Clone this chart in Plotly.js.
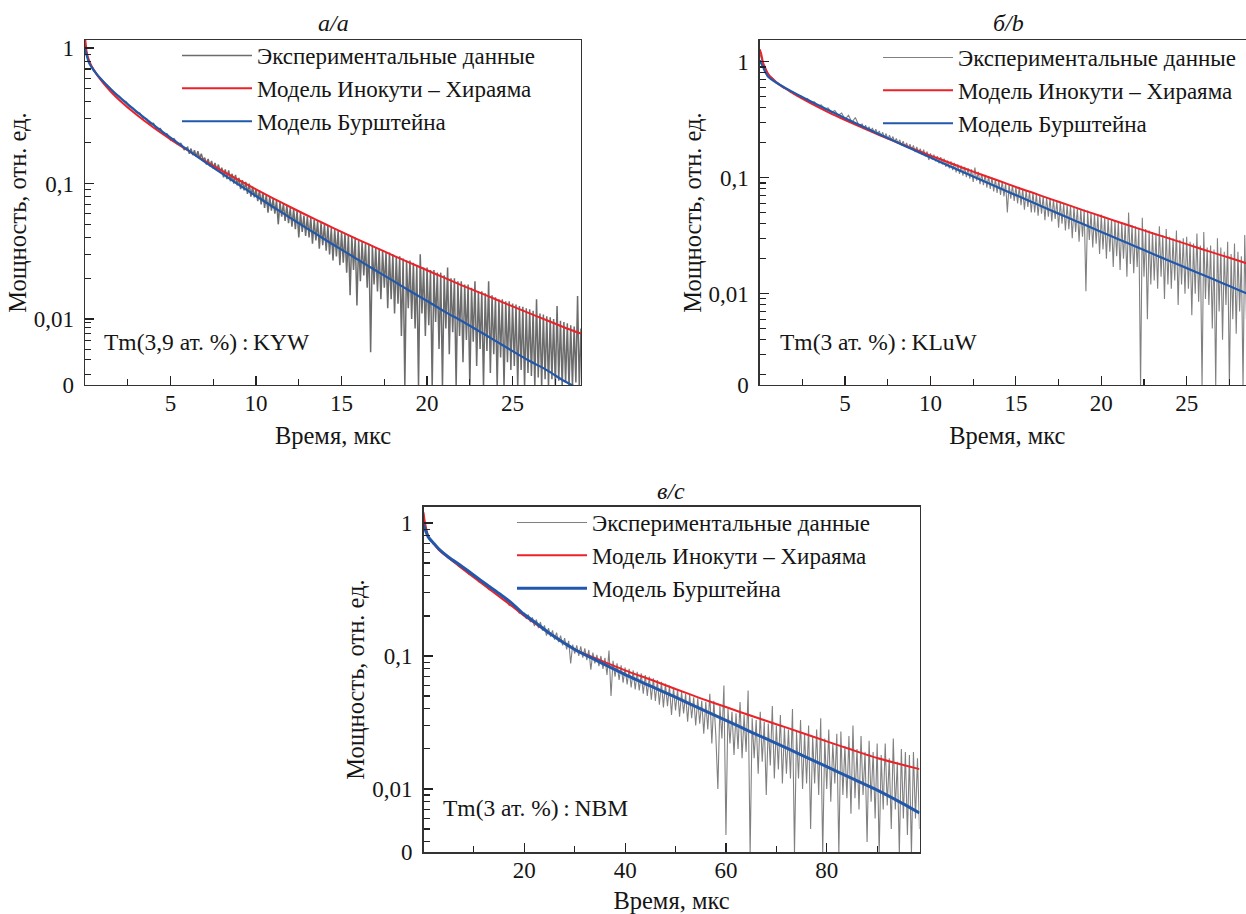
<!DOCTYPE html>
<html><head><meta charset="utf-8">
<script src="https://cdn.plot.ly/plotly-3.0.1.min.js"></script>
<style>html,body{margin:0;padding:0;overflow:hidden;background:#fff}#chart{width:1255px;height:914px}</style>
</head><body><div id="chart"></div><script>
// ---------- shared time grid for panels a and b (µs) ----------
const expAB_t = [0,0.2,0.4,0.6,0.8,1,1.2,1.4,1.6,1.8,2,2.2,2.4,2.6,2.8,3,3.2,3.4,3.6,3.8,4,4.2,4.4,4.6,4.8,5,5.2,5.4,5.6,5.8,
 6,6.1,6.2,6.3,6.4,6.5,6.6,6.7,6.8,6.9, 7,7.1,7.2,7.3,7.4,7.5,7.6,7.7,7.8,7.9,
 8,8.1,8.2,8.3,8.4,8.5,8.6,8.7,8.8,8.9, 9,9.1,9.2,9.3,9.4,9.5,9.6,9.7,9.8,9.9,
 10,10.1,10.2,10.3,10.4,10.5,10.6,10.7,10.8,10.9, 11,11.1,11.2,11.3,11.4,11.5,11.6,11.7,11.8,11.9,
 12,12.1,12.2,12.3,12.4,12.5,12.6,12.7,12.8,12.9, 13,13.1,13.2,13.3,13.4,13.5,13.6,13.7,13.8,13.9,
 14,14.1,14.2,14.3,14.4,14.5,14.6,14.7,14.8,14.9, 15,15.1,15.2,15.3,15.4,15.5,15.6,15.7,15.8,15.9,
 16,16.1,16.2,16.3,16.4,16.5,16.6,16.7,16.8,16.9, 17,17.1,17.2,17.3,17.4,17.5,17.6,17.7,17.8,17.9,
 18,18.1,18.2,18.3,18.4,18.5,18.6,18.7,18.8,18.9, 19,19.1,19.2,19.3,19.4,19.5,19.6,19.7,19.8,19.9,
 20,20.1,20.2,20.3,20.4,20.5,20.6,20.7,20.8,20.9, 21,21.1,21.2,21.3,21.4,21.5,21.6,21.7,21.8,21.9,
 22,22.1,22.2,22.3,22.4,22.5,22.6,22.7,22.8,22.9, 23,23.1,23.2,23.3,23.4,23.5,23.6,23.7,23.8,23.9,
 24,24.1,24.2,24.3,24.4,24.5,24.6,24.7,24.8,24.9, 25,25.1,25.2,25.3,25.4,25.5,25.6,25.7,25.8,25.9,
 26,26.1,26.2,26.3,26.4,26.5,26.6,26.7,26.8,26.9, 27,27.1,27.2,27.3,27.4,27.5,27.6,27.7,27.8,27.9,
 28,28.1,28.2,28.3,28.4,28.5,28.6,28.7,28.8,28.9, 29];

// ---------- Panel a: Tm(3,9 at.%):KYW ----------
const tA_model = [0,0.05,0.1,0.25,0.5,1,1.5,2,3,4,5,6,7,8,9,10,11,12,13,14,15,16,17,18,19,20,21,22,23,24,25,26,27,28,29];
const redA  = [1.2,1.05,0.93,0.80,0.692,0.564,0.478,0.414,0.323,0.259,0.212,0.176,0.147,0.1245,0.106,0.0906,0.0778,0.0671,0.0581,0.0505,0.044,0.0384,0.0337,0.0295,0.026,0.0229,0.0202,0.0178,0.0158,0.014,0.0124,0.011,0.0098,0.0087,0.0078];
const blueA = [1.0,0.93,0.88,0.77,0.687,0.578,0.499,0.436,0.3405,0.271,0.218,0.177,0.1446,0.1187,0.0978,0.0809,0.0671,0.0558,0.0465,0.0388,0.0325,0.0272,0.0228,0.0192,0.0161,0.0136,0.0114,0.0097,0.0082,0.0069,0.0058,0.0049,0.0042,0.0035,0.0030];
const expA_v = [1.05,0.80,0.73,0.665,0.615,0.58,0.545,0.51,0.48,0.455,
 0.44,0.41,0.40,0.37,0.36,0.335,0.33,0.305,0.30,0.275,
 0.278,0.253,0.255,0.232,0.232,0.21,0.214,0.196,0.198,0.178,
 0.185,0.166,0.181,0.162,0.176,0.158,0.173,0.153,0.166,0.150,
 0.155,0.138,0.152,0.134,0.147,0.129,0.142,0.125,0.138,0.121,
 0.131,0.111,0.127,0.108,0.125,0.104,0.118,0.100,0.116,0.097,
 0.110,0.091,0.106,0.089,0.103,0.084,0.100,0.080,0.095,0.079,
 0.091,0.074,0.089,0.070,0.086,0.066,0.083,0.061,0.080,0.063,
 0.077,0.060,0.075,0.050,0.073,0.057,0.071,0.053,0.069,0.051,
 0.066,0.048,0.065,0.046,0.063,0.040,0.061,0.044,0.058,0.041,
 0.057,0.040,0.056,0.036,0.054,0.038,0.053,0.033,0.051,0.035,
 0.050,0.032,0.049,0.030,0.047,0.027,0.046,0.029,0.045,0.025,
 0.044,0.026,0.043,0.022,0.042,0.015,0.041,0.023,0.040,0.0126,
 0.038,0.019,0.037,0.021,0.036,0.017,0.036,0.0057,0.035,0.018,
 0.034,0.016,0.033,0.014,0.032,0.017,0.031,0.012,0.031,0.014,
 0.030,0.011,0.029,0.013,0.029,0.0075,0.028,0,0.027,0.012,
 0.027,0.010,0.026,0.0085,0.025,0,0.030,0.011,0.024,0.0075,
 0.024,0.009,0.023,0,0.023,0.0095,0.022,0.006,0.022,0,
 0.021,0.0085,0.024,0.0055,0.020,0.008,0.020,0,0.019,0.0075,
 0.019,0.0048,0.018,0.007,0.018,0,0.017,0.0068,0.019,0.0045,
 0.016,0.006,0.016,0,0.0155,0.0058,0.019,0.004,0.015,0.0055,
 0.0145,0,0.014,0.0052,0.014,0,0.0135,0.0048,0.0135,0.0042,
 0.013,0.0045,0.0128,0,0.0125,0.0042,0.0123,0,0.012,0.004,
 0.0118,0.0038,0.0115,0,0.014,0.0037,0.011,0,0.0108,0.0036,
 0.0105,0,0.0103,0.0036,0.010,0,0.0125,0.0035,0.0097,0,
 0.0095,0.0034,0.0093,0,0.009,0,0.0088,0.0034,0.0148,0,
 0.0085];

// ---------- Panel b: Tm(3 at.%):KLuW ----------
const tB_model = [0,0.08,0.2,0.3,0.5,1,1.5,2,3,4,5,6,7,8,9,10,11,12,13,14,15,16,17,18,19,20,21,22,23,24,25,26,27,28,29];
const redB  = [1.28,1.18,0.98,0.9,0.78,0.66,0.587,0.528,0.437,0.368,0.314,0.27,0.233,0.203,0.177,0.155,0.1365,0.12,0.106,0.094,0.083,0.074,0.0657,0.0585,0.052,0.0465,0.0415,0.0371,0.0332,0.0298,0.0267,0.0239,0.0215,0.0193,0.0173];
const blueB = [1.03,0.97,0.9,0.83,0.74,0.655,0.594,0.541,0.454,0.384,0.326,0.277,0.237,0.203,0.174,0.149,0.128,0.11,0.095,0.082,0.0707,0.061,0.0527,0.0455,0.0394,0.034,0.0295,0.0255,0.0221,0.0191,0.0166,0.0144,0.0125,0.0108,0.0094];
const expB_v = [1.2,0.93,0.83,0.75,0.71,0.65,0.635,0.59,0.58,0.545,
 0.545,0.505,0.51,0.475,0.48,0.445,0.45,0.415,0.425,0.39,
 0.40,0.365,0.38,0.345,0.36,0.318,0.345,0.30,0.33,0.283,
 0.29,0.262,0.283,0.257,0.275,0.25,0.268,0.244,0.262,0.238,
 0.253,0.228,0.246,0.222,0.24,0.214,0.232,0.21,0.226,0.204,
 0.218,0.196,0.212,0.19,0.206,0.185,0.199,0.18,0.194,0.174,
 0.19,0.166,0.184,0.163,0.178,0.158,0.174,0.153,0.168,0.142,
 0.162,0.143,0.158,0.138,0.153,0.133,0.15,0.13,0.146,0.124,
 0.14,0.12,0.138,0.116,0.134,0.111,0.13,0.108,0.127,0.104,
 0.124,0.101,0.121,0.098,0.118,0.092,0.122,0.094,0.112,0.088,
 0.108,0.086,0.106,0.082,0.103,0.08,0.1,0.076,0.097,0.074,
 0.095,0.071,0.093,0.069,0.09,0.05,0.088,0.066,0.086,0.063,
 0.084,0.06,0.083,0.058,0.08,0.053,0.078,0.056,0.076,0.05,
 0.075,0.05,0.073,0.047,0.07,0.049,0.069,0.043,0.068,0.046,
 0.067,0.042,0.065,0.044,0.063,0.037,0.062,0.04,0.06,0.035,
 0.059,0.036,0.058,0.03,0.056,0.034,0.055,0.028,0.054,0.031,
 0.053,0.0105,0.052,0.029,0.05,0.025,0.049,0.027,0.048,0.022,
 0.048,0.024,0.046,0.02,0.045,0.023,0.044,0.017,0.043,0.021,
 0.042,0.016,0.041,0.02,0.04,0.014,0.05,0.018,0.039,0.015,
 0.038,0.017,0.037,0,0.045,0.014,0.036,0.006,0.035,0.012,
 0.034,0.013,0.033,0.011,0.038,0.014,0.032,0.009,0.036,0.012,
 0.031,0.011,0.03,0.013,0.035,0.008,0.029,0.012,0.03,0.01,
 0.031,0.011,0.028,0.0065,0.027,0.01,0.033,0.0085,0.026,0,
 0.034,0.009,0.025,0.008,0.026,0.005,0.024,0,0.03,0.007,
 0.025,0.004,0.023,0.008,0.028,0,0.022,0.006,0.027,0.0045,
 0.023,0.007,0.021,0,0.032,0.006,0.02,0.0035,0.027,0.005,
 0.02];

// ---------- Panel c: Tm(3 at.%):NBM ----------
const tC_model = [0,0.3,1,2,3,5,7.5,10,12.5,15,17.5,20,22.5,25,30,35,40,45,50,55,60,65,70,75,80,85,90,95,98.4];
const redC  = [1.2,1.0,0.78,0.70,0.63,0.545,0.46,0.39,0.33,0.28,0.238,0.2,0.172,0.148,0.112,0.093,0.078,0.0665,0.0565,0.048,0.0413,0.0355,0.0307,0.0265,0.0228,0.0197,0.0171,0.0152,0.0141];
const blueC = [0.97,0.9,0.78,0.705,0.64,0.553,0.475,0.405,0.345,0.295,0.25,0.205,0.175,0.148,0.112,0.09,0.0725,0.0595,0.049,0.04,0.0328,0.0268,0.022,0.018,0.0147,0.012,0.0098,0.0078,0.0066];
const expC_t = [0,1,2,3,4,5,6,7,8,9,10,11,12,13,14,15,16,17,18,19,20,
 20.4,20.8,21.2,21.6,22, 22.4,22.8,23.2,23.6,24, 24.4,24.8,25.2,25.6,26, 26.4,26.8,27.2,27.6,28,
 28.4,28.8,29.2,29.6,30, 30.4,30.8,31.2,31.6,32, 32.4,32.8,33.2,33.6,34, 34.4,34.8,35.2,35.6,36,
 36.4,36.8,37.2,37.6,38, 38.4,38.8,39.2,39.6,40, 40.4,40.8,41.2,41.6,42, 42.4,42.8,43.2,43.6,44,
 44.4,44.8,45.2,45.6,46, 46.4,46.8,47.2,47.6,48, 48.4,48.8,49.2,49.6,50, 50.4,50.8,51.2,51.6,52,
 52.4,52.8,53.2,53.6,54, 54.4,54.8,55.2,55.6,56, 56.4,56.8,57.2,57.6,58, 58.4,58.8,59.2,59.6,60,
 60.4,60.8,61.2,61.6,62, 62.4,62.8,63.2,63.6,64, 64.4,64.8,65.2,65.6,66, 66.4,66.8,67.2,67.6,68,
 68.4,68.8,69.2,69.6,70, 70.4,70.8,71.2,71.6,72, 72.4,72.8,73.2,73.6,74, 74.4,74.8,75.2,75.6,76,
 76.4,76.8,77.2,77.6,78, 78.4,78.8,79.2,79.6,80, 80.4,80.8,81.2,81.6,82, 82.4,82.8,83.2,83.6,84,
 84.4,84.8,85.2,85.6,86, 86.4,86.8,87.2,87.6,88, 88.4,88.8,89.2,89.6,90, 90.4,90.8,91.2,91.6,92,
 92.4,92.8,93.2,93.6,94, 94.4,94.8,95.2,95.6,96, 96.4,96.8,97.2,97.6,98, 98.4];
const expC_v = [1.05,0.77,0.71,0.625,0.60,0.54,0.525,0.47,0.46,0.41,0.405,0.36,0.355,0.315,0.315,0.28,0.275,0.24,0.238,0.21,0.21,
 0.19,0.205,0.18,0.195,0.168, 0.188,0.162,0.18,0.155,0.17, 0.142,0.162,0.14,0.156,0.133, 0.15,0.127,0.142,0.12,0.136,
 0.112,0.13,0.088,0.122,0.104, 0.12,0.1,0.118,0.097,0.114, 0.093,0.111,0.079,0.106,0.088, 0.102,0.084,0.1,0.08,0.097,
 0.072,0.11,0.05,0.092,0.07, 0.088,0.066,0.085,0.063,0.082, 0.061,0.08,0.058,0.078,0.056, 0.076,0.055,0.074,0.052,0.072,
 0.05,0.07,0.047,0.068,0.046, 0.066,0.043,0.064,0.041,0.062, 0.042,0.06,0.036,0.058,0.039, 0.056,0.035,0.054,0.037,0.052,
 0.032,0.051,0.034,0.049,0.03, 0.048,0.031,0.046,0.026,0.045, 0.028,0.052,0.022,0.046,0.025, 0.01,0.042,0.024,0.06,0.0045,
 0.04,0.022,0.038,0.018,0.037, 0.02,0.045,0.017,0.036,0.019, 0.055,0,0.034,0.017,0.033, 0.013,0.038,0.016,0.032,0.009,
 0.031,0.015,0.042,0.012,0.03, 0.014,0.036,0.011,0.029,0.013, 0.028,0.012,0.04,0,0.027, 0.012,0.033,0.01,0.026,0.011,
 0.03,0.005,0.025,0.011,0.028, 0.009,0.034,0,0.024,0.01, 0.028,0.008,0.022,0.011,0.026, 0,0.027,0.009,0.021,0.0085,
 0.025,0.0065,0.03,0.0085,0.02, 0.007,0.025,0.009,0.019,0.004, 0.023,0.008,0.019,0.006,0.022, 0,0.018,0.007,0.022,0.0075,
 0.017,0.005,0.024,0.007,0.016, 0,0.02,0.006,0.019,0.0045, 0.018,0,0.019,0.006,0.017, 0.005];

// ---------- Axis settings ----------
const xTicksAB = [5,10,15,20,25];
const xTicksC = [20,40,60,80];
const yTickText = ['0','0,01','0,1','1'];
const yBottomA = 0.00326, yTopA = 1.146;
const yBottomB = 0.00163, yTopB = 1.538;
const yBottomC = 0.00334, yTopC = 1.326;
const minorUpper = [0.2,0.3,0.4,0.5,0.6,0.7,0.8,0.9,0.02,0.03,0.04,0.05,0.06,0.07,0.08,0.09];
const minorLowA = [0.0094,0.0086,0.0078,0.0069,0.006,0.005,0.0039];
const minorLowB = [0.009,0.008,0.007,0.006,0.005,0.004,0.003,0.002];
const minorLowC = [0.009,0.008,0.007,0.006,0.005,0.004];

const labels = {
  exp: 'Экспериментальные данные',
  ih: 'Модель Инокути – Хираяма',
  b: 'Модель Бурштейна',
  xTitle: 'Время, мкс',
  yTitle: 'Мощность, отн. ед.'
};

const W = 1255, H = 914;
const FONT = '"Liberation Serif", "DejaVu Serif", serif';
const INK = '#151515';
const RED = 'rgb(236,34,40)', BLUE = 'rgb(34,88,172)';
const GRAY_A = 'rgb(108,108,108)', GRAY_BC = 'rgb(128,128,128)';
const px = v => v / W, py = v => 1 - v / H;
const floorAt = (arr, f) => arr.map(v => (v < f ? f * 0.97 : v));

function panelTraces(xa, ya, leg, expT, expV, bottom, gray, grayW, tM, red, blue, blueW) {
  return [
    {x: expT, y: floorAt(expV, bottom), xaxis: xa, yaxis: ya, legend: leg, name: labels.exp,
      mode: 'lines', line: {color: gray, width: grayW}, hoverinfo: 'skip'},
    {x: tM, y: red, xaxis: xa, yaxis: ya, legend: leg, name: labels.ih, mode: 'lines',
      line: {color: RED, width: 2, shape: 'spline', smoothing: 0.6}, hoverinfo: 'skip'},
    {x: tM, y: blue, xaxis: xa, yaxis: ya, legend: leg, name: labels.b, mode: 'lines',
      line: {color: BLUE, width: blueW, shape: 'spline', smoothing: 0.6}, hoverinfo: 'skip'}
  ];
}

const data = [].concat(
  panelTraces('x', 'y', 'legend', expAB_t, expA_v, yBottomA, GRAY_A, 1.5, tA_model, redA, blueA, 2.2),
  panelTraces('x2', 'y2', 'legend2', expAB_t, expB_v, yBottomB, GRAY_BC, 1.1, tB_model, redB, blueB, 2.2),
  panelTraces('x3', 'y3', 'legend3', expC_t, expC_v, yBottomC, GRAY_BC, 1.1, tC_model, redC, blueC, 3)
);

const tickFont = {family: FONT, size: 23, color: INK};
const titleFont = {family: FONT, size: 24.5, color: INK};
function xAxis(domain, range, ticks, minorD, anchor) {
  return {domain, range, anchor, showline: true, mirror: true, linecolor: '#333', linewidth: 1.3,
    ticks: 'inside', ticklen: 9, tickwidth: 1.2, tickcolor: '#222', tickmode: 'array', tickvals: ticks,
    ticktext: ticks.map(String), minor: {tickmode: 'linear', tick0: 0, dtick: minorD, ticks: 'inside', ticklen: 6, tickwidth: 1.1, tickcolor: '#222'},
    showgrid: false, zeroline: false, tickfont: tickFont, ticklabelstandoff: -3, automargin: false,
    title: {text: labels.xTitle, font: titleFont, standoff: 12}};
}
function yAxis(domain, bottom, top, minorLow, anchor) {
  return {domain, type: 'log', range: [Math.log10(bottom), Math.log10(top)], anchor, showline: true, mirror: true,
    linecolor: '#333', linewidth: 1.3, ticks: 'inside', ticklen: 9, tickwidth: 1.2, tickcolor: '#222',
    tickmode: 'array', tickvals: [bottom, 0.01, 0.1, 1], ticktext: yTickText,
    minor: {tickmode: 'array', tickvals: minorUpper.concat(minorLow), ticks: 'inside', ticklen: 6, tickwidth: 1.1, tickcolor: '#222'},
    showgrid: false, zeroline: false, tickfont: tickFont, ticklabelstandoff: 5, automargin: false,
    title: {text: labels.yTitle, font: titleFont, standoff: 0}};
}
const legendBase = {bgcolor: 'rgba(0,0,0,0)', borderwidth: 0, xanchor: 'left', yanchor: 'top',
  font: {family: FONT, size: 23, color: INK}, tracegroupgap: 0, itemwidth: 70};

const annFont = {family: FONT, size: 23.5, color: INK};
const headFont = {family: FONT, size: 24, color: INK};
const layout = {
  width: W, height: H, autosize: false, margin: {l: 0, r: 0, t: 0, b: 0},
  paper_bgcolor: '#fff', plot_bgcolor: '#fff', showlegend: true,
  xaxis: xAxis([px(85), px(581)], [0, 29], xTicksAB, 2.5, 'y'),
  yaxis: yAxis([py(385), py(40)], yBottomA, yTopA, minorLowA, 'x'),
  xaxis2: xAxis([px(759.7), 1], [0, 29], xTicksAB, 2.5, 'y2'),
  yaxis2: yAxis([py(385), py(40)], yBottomB, yTopB, minorLowB, 'x2'),
  xaxis3: xAxis([px(423.5), px(919.5)], [0, 98.4], xTicksC, 10, 'y3'),
  yaxis3: yAxis([py(852.3), py(506.7)], yBottomC, yTopC, minorLowC, 'x3'),
  legend: Object.assign({}, legendBase, {x: px(177), y: py(34)}),
  legend2: Object.assign({}, legendBase, {x: px(878), y: py(36)}),
  legend3: Object.assign({}, legendBase, {x: px(512), y: py(501)}),
  annotations: [
    {text: '<i>а/a</i>', x: px(333), y: py(23), xref: 'paper', yref: 'paper', showarrow: false, xanchor: 'center', yanchor: 'middle', font: headFont},
    {text: '<i>б/b</i>', x: px(1008), y: py(23), xref: 'paper', yref: 'paper', showarrow: false, xanchor: 'center', yanchor: 'middle', font: headFont},
    {text: '<i>в/c</i>', x: px(671), y: py(491), xref: 'paper', yref: 'paper', showarrow: false, xanchor: 'center', yanchor: 'middle', font: headFont},
    {text: 'Tm(3,9 ат. %)\u2009:\u2009KYW', x: px(102), y: py(342), xref: 'paper', yref: 'paper', showarrow: false, xanchor: 'left', yanchor: 'middle', font: annFont},
    {text: 'Tm(3 ат. %)\u2009:\u2009KLuW', x: px(778), y: py(342), xref: 'paper', yref: 'paper', showarrow: false, xanchor: 'left', yanchor: 'middle', font: annFont},
    {text: 'Tm(3 ат. %)\u2009:\u2009NBM', x: px(441), y: py(808), xref: 'paper', yref: 'paper', showarrow: false, xanchor: 'left', yanchor: 'middle', font: annFont}
  ]
};

Plotly.newPlot('chart', data, layout, {staticPlot: true, displayModeBar: false});
</script></body></html>
